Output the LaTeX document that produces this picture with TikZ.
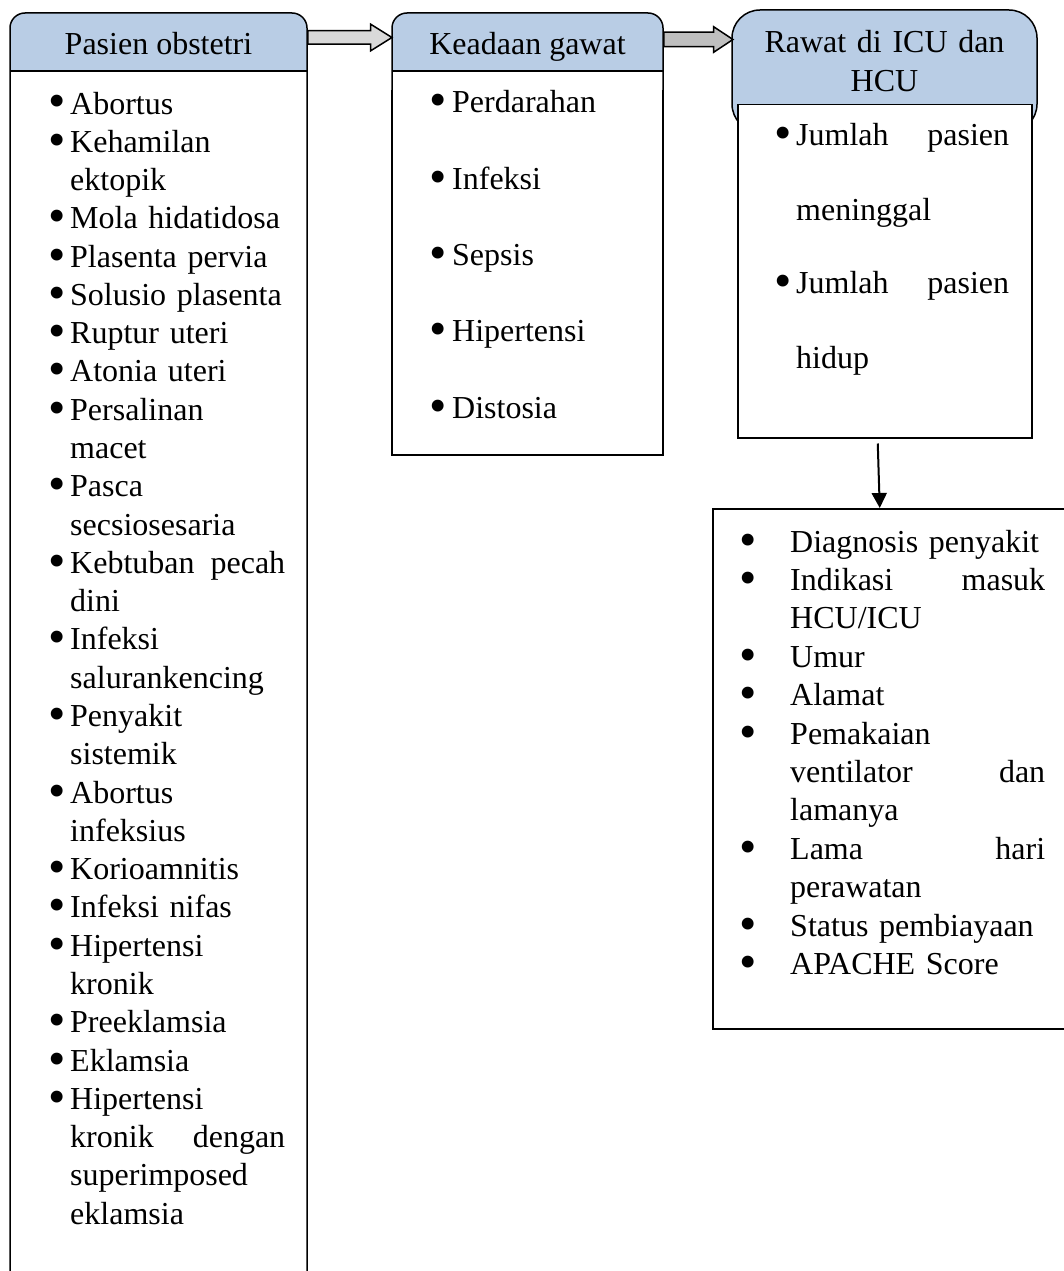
\documentclass[tikz,border=0pt]{standalone}
\usepackage{graphicx}
\usepackage{fontspec}
\setmainfont{Liberation Serif}
\usetikzlibrary{shapes.arrows,arrows.meta}
\definecolor{hdrblue}{RGB}{185,205,229}
\definecolor{arrgrayA}{RGB}{217,217,217}
\definecolor{arrgrayB}{RGB}{191,191,191}
\newcommand{\bul}[1][4pt]{\leavevmode\llap{\raisebox{-4pt}{\scalebox{1.55}{\textbullet}}\hspace{#1}}}
\newcommand{\jus}[3]{\makebox[#1][l]{#2\hfill #3}}
\tikzset{
  box/.style={line width=1.5pt},
  hdr/.style={inner sep=0, text height=26, text depth=0, font=\fontsize{32}{39}\selectfont},
  lst/.style={inner sep=0, anchor=base west, align=left, font=\fontsize{32}{#1}\selectfont},
  blockarr/.style={single arrow, draw, line width=1.5pt, anchor=tail}
}
\begin{document}
\begin{tikzpicture}[x=1pt,y=-1pt]
\useasboundingbox (0,0) rectangle (1064,1271);
%\draw[help lines] (0,0) grid[step=100] (1064,1271);
\fill[hdrblue,rounded corners=15] (10,13) rectangle (307,71);
\fill[hdrblue] (10,40) rectangle (307,71);
\draw[box,rounded corners=15] (10,1300) -- (10,13) -- (307,13) -- (307,1300);
\draw[box] (10,71) -- (307,71);
\fill[hdrblue,rounded corners=15] (392,13) rectangle (663,71);
\fill[hdrblue] (392,40) rectangle (663,71);
\draw[box,rounded corners=15] (392,100) -- (392,13) -- (663,13) -- (663,100);
\draw[box] (392,90) -- (392,455) -- (663,455) -- (663,90);
\draw[box] (392,71) -- (663,71);
\filldraw[box,fill=hdrblue,rounded corners=28] (732,10) rectangle (1037,132);

\node[hdr,minimum width=297,minimum height=58] (pasien) at (158.5,42) {Pasien obstetri};
\node[hdr,minimum width=271,minimum height=58] (keadaan) at (527.5,42) {Keadaan gawat};
\node[inner sep=0,anchor=base,text width=300,align=center,font=\fontsize{32}{39}\selectfont] (rawat) at (884.5,53) {Rawat di ICU dan\\HCU};
\node[draw,box,fill=white,anchor=north west,minimum width=294,minimum height=333] (hasil) at (737,104) {};
\node[draw,box,anchor=north west,minimum width=360,minimum height=520] (data) at (712,508) {};

\node[blockarr,fill=arrgrayA,inner sep=6,minimum height=84,single arrow head extend=6.5,single arrow tip angle=64,yshift=4.5pt] (arrA) at (pasien.east) {};
\node[blockarr,fill=arrgrayB,inner sep=6.5,minimum height=69,single arrow head extend=5.5,single arrow tip angle=67,yshift=2.5pt] (arrB) at (keadaan.east) {};
\draw[line width=2pt,-{Triangle[width=15,length=15]}] ([shift={(-7pt,-5pt)}]hasil.south) -- ([xshift=-5pt]hasil.south |- data.north);

\node[lst=38.28,text width=220] (kondisi) at (70,114) {
\bul Abortus\\
\bul Kehamilan\\
ektopik\\
\bul Mola hidatidosa\\
\bul Plasenta pervia\\
\bul Solusio plasenta\\
\bul Ruptur uteri\\
\bul Atonia uteri\\
\bul Persalinan\\
macet\\
\bul Pasca\\
secsiosesaria\\
\bul\jus{215pt}{Kebtuban}{pecah}\\
dini\\
\bul Infeksi\\
salurankencing\\
\bul Penyakit\\
sistemik\\
\bul Abortus\\
infeksius\\
\bul Korioamnitis\\
\bul Infeksi nifas\\
\bul Hipertensi\\
kronik\\
\bul Preeklamsia\\
\bul Eklamsia\\
\bul Hipertensi\\
\jus{215pt}{kronik}{dengan}\\
superimposed\\
eklamsia};
\node[lst=76.3,text width=200] (gawat) at (452,113) {
\bul[5pt]Perdarahan\\
\bul[5pt]Infeksi\\
\bul[5pt]Sepsis\\
\bul[5pt]Hipertensi\\
\bul[5pt]Distosia};
\node[lst=74,text width=220] (jumlah) at (796,146) {
\bul\jus{213pt}{Jumlah}{pasien}\\
meninggal\\
\bul\jus{213pt}{Jumlah}{pasien}\\
hidup};
\node[lst=38.4,text width=270] (variabel) at (790,552) {
\bul[33pt]Diagnosis penyakit\\
\bul[33pt]\jus{255pt}{Indikasi}{masuk}\\
HCU/ICU\\
\bul[33pt]Umur\\
\bul[33pt]Alamat\\
\bul[33pt]Pemakaian\\
\jus{255pt}{ventilator}{dan}\\
lamanya\\
\bul[33pt]\jus{255pt}{Lama}{hari}\\
perawatan\\
\bul[33pt]Status pembiayaan\\
\bul[33pt]APACHE Score};
\end{tikzpicture}
\end{document}
